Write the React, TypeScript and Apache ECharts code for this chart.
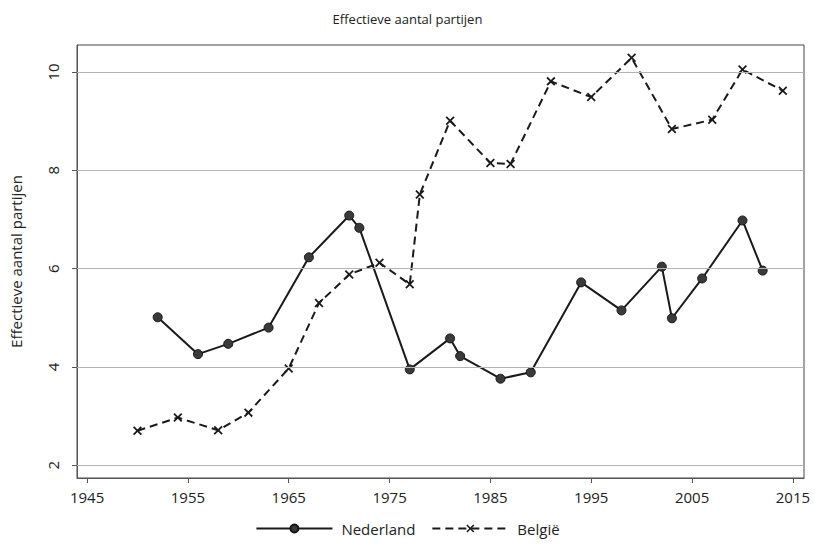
import React, { useEffect, useRef } from "react";
import * as echarts from "echarts";

const nlYears = [1952, 1956, 1959, 1963, 1967, 1971, 1972, 1977, 1981, 1982, 1986, 1989, 1994, 1998, 2002, 2003, 2006, 2010, 2012];
const nlValues = [5.01, 4.26, 4.47, 4.8, 6.23, 7.08, 6.83, 3.95, 4.58, 4.22, 3.76, 3.89, 5.72, 5.15, 6.04, 4.99, 5.8, 6.98, 5.96];
const beYears = [1950, 1954, 1958, 1961, 1965, 1968, 1971, 1974, 1977, 1978, 1981, 1985, 1987, 1991, 1995, 1999, 2003, 2007, 2010, 2014];
const beValues = [2.7, 2.97, 2.71, 3.07, 3.97, 5.3, 5.88, 6.12, 5.68, 7.51, 9.01, 8.15, 8.13, 9.81, 9.49, 10.29, 8.84, 9.03, 10.05, 9.62];
const xTicks = [1945, 1955, 1965, 1975, 1985, 1995, 2005, 2015];
const yTicks = [2, 4, 6, 8, 10];
const titleText = "Effectieve aantal partijen";
const yAxisTitle = "Effectieve aantal partijen";
const seriesNames = ["Nederland", "België"];

const FONT = "'Open Sans', sans-serif";
const X_SYMBOL = "path://M0,1.4 L1.4,0 L5,3.6 L8.6,0 L10,1.4 L6.4,5 L10,8.6 L8.6,10 L5,6.4 L1.4,10 L0,8.6 L3.6,5 Z";

export default function App() {
  const ref = useRef<HTMLDivElement>(null);
  useEffect(() => {
    if (!ref.current) return;
    const chart = echarts.init(ref.current, undefined, { renderer: "svg" });
    const nl = nlYears.map((y, i) => [y, nlValues[i]]);
    const be = beYears.map((y, i) => [y, beValues[i]]);
    chart.setOption({
      animation: false,
      backgroundColor: "#ffffff",
      textStyle: { fontFamily: FONT },
      title: {
        text: titleText,
        left: "center",
        top: 7,
        textStyle: { fontFamily: FONT, fontSize: 13, fontWeight: "normal", color: "#222" },
      },
      grid: {
        left: 72,
        right: 11,
        top: 45,
        bottom: 69,
        show: true,
        borderColor: "#444",
        borderWidth: 1,
        backgroundColor: "#fff",
      },
      legend: {
        data: seriesNames,
        bottom: 6,
        left: "center",
        itemWidth: 76,
        itemHeight: 10,
        itemGap: 16,
        textStyle: { fontFamily: FONT, fontSize: 15, color: "#222", padding: [0, 0, 0, 4] },
      },
      xAxis: {
        type: "value",
        min: 1944,
        max: 2016.1,
        axisLine: { show: true, lineStyle: { color: "#555", width: 1 } },
        axisTick: { show: true, length: 5, customValues: xTicks, lineStyle: { color: "#555" } },
        axisLabel: {
          customValues: xTicks,
          margin: 11,
          fontSize: 15,
          color: "#222",
          fontFamily: FONT,
          formatter: (v: number) => String(v),
        },
        splitLine: { show: false },
      },
      yAxis: {
        type: "value",
        min: 1.74,
        max: 10.55,
        name: yAxisTitle,
        nameLocation: "middle",
        nameGap: 54,
        nameTextStyle: { fontFamily: FONT, fontSize: 15, color: "#222" },
        axisLine: { show: true, lineStyle: { color: "#555", width: 1 } },
        axisTick: { show: true, length: 5, customValues: yTicks, lineStyle: { color: "#555" } },
        axisLabel: {
          customValues: yTicks,
          rotate: 90,
          margin: 17,
          fontSize: 15,
          color: "#222",
          fontFamily: FONT,
          formatter: (v: number) => String(v),
        },
        splitLine: { show: false },
      },
      series: [
        {
          name: "grid",
          type: "line",
          data: [],
          silent: true,
          z: 1,
          markLine: {
            silent: true,
            symbol: ["none", "none"],
            label: { show: false },
            lineStyle: { color: "#b4b4b4", width: 1, type: "solid" },
            data: yTicks.map((v) => ({ yAxis: v })),
          },
        },
        {
          name: seriesNames[0],
          type: "line",
          data: nl,
          z: 3,
          symbol: "circle",
          symbolSize: 9,
          itemStyle: { color: "#3a3a3a", borderColor: "#151515", borderWidth: 1 },
          lineStyle: { color: "#1a1a1a", width: 2, type: "solid" },
        },
        {
          name: seriesNames[1],
          type: "line",
          data: be,
          z: 3,
          symbol: X_SYMBOL,
          symbolSize: 9,
          itemStyle: { color: "#1a1a1a" },
          lineStyle: { color: "#1a1a1a", width: 2, type: [8, 5] },
        },
      ],
    });
    return () => chart.dispose();
  }, []);
  return <div ref={ref} style={{ position: "fixed", left: 0, top: 0, width: 815, height: 547 }} />;
}
